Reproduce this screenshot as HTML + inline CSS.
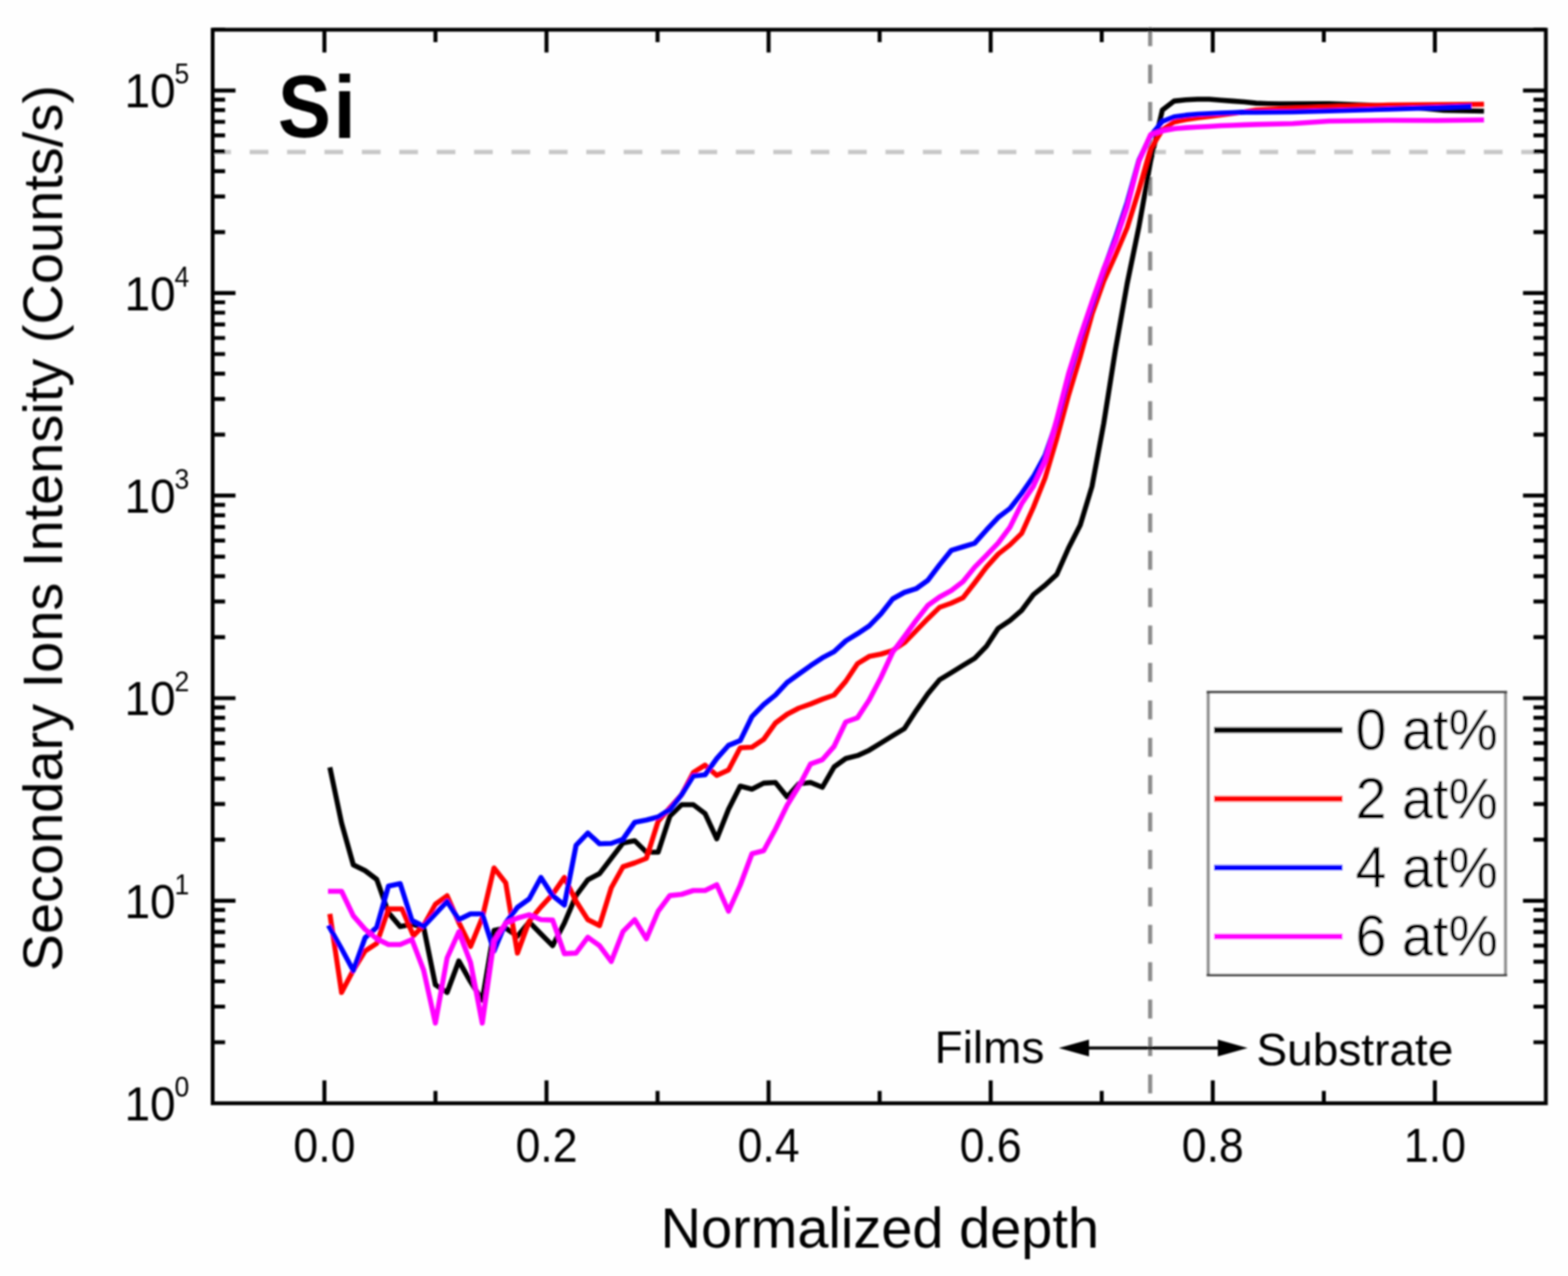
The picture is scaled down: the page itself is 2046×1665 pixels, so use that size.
<!DOCTYPE html>
<html lang="en"><head><meta charset="utf-8"><title>Si SIMS depth profile</title>
<style>html,body{margin:0;padding:0;background:#fefefe;}body{width:2046px;height:1665px;overflow:hidden;}svg{display:block;}text{font-family:'Liberation Sans', Arial, Helvetica, sans-serif;fill:#000;}</style>
</head><body>
<svg xmlns="http://www.w3.org/2000/svg" width="2046" height="1665" viewBox="0 0 2046 1665">
<defs><filter id="soft" x="-2%" y="-2%" width="104%" height="104%"><feGaussianBlur stdDeviation="1"/></filter></defs>
<rect x="0" y="0" width="2046" height="1665" fill="#fefefe"/>
<g filter="url(#soft)">
<line x1="277" y1="198.3" x2="2017" y2="198.3" stroke="#c8c8c8" stroke-width="5.8" stroke-dasharray="24.4 24.4"/>
<line x1="1500.8" y1="35.5" x2="1500.8" y2="1440" stroke="#8c8c8c" stroke-width="5.4" stroke-dasharray="24.8 24"/>
<path d="M430.4 1001.3 L445.7 1074.0 L461.0 1128.5 L476.3 1136.0 L491.6 1147.5 L506.9 1191.0 L522.2 1209.0 L537.5 1206.0 L552.8 1210.0 L568.1 1285.0 L583.4 1295.0 L598.7 1254.0 L614.0 1281.0 L629.3 1305.0 L644.6 1214.0 L659.9 1211.0 L675.2 1221.7 L690.5 1203.0 L705.8 1218.6 L721.1 1234.0 L736.4 1204.5 L751.7 1168.6 L767.0 1148.0 L782.3 1140.0 L797.6 1120.0 L812.9 1100.0 L828.2 1097.0 L843.5 1112.0 L858.8 1112.0 L874.1 1065.0 L889.4 1050.0 L904.7 1050.0 L920.0 1061.7 L935.3 1094.6 L950.6 1056.0 L965.9 1025.8 L981.2 1029.7 L996.5 1021.9 L1011.8 1021.0 L1027.1 1039.9 L1042.4 1022.7 L1057.7 1021.0 L1073.0 1027.3 L1088.3 1000.8 L1103.6 989.8 L1118.9 985.9 L1134.2 978.9 L1149.5 969.5 L1164.8 960.0 L1180.1 950.7 L1195.4 927.3 L1210.7 905.4 L1226.0 887.0 L1241.3 877.7 L1256.6 868.3 L1271.9 859.0 L1287.2 843.3 L1302.5 819.9 L1317.8 809.7 L1333.1 796.4 L1348.4 776.0 L1363.7 763.6 L1379.0 749.5 L1394.3 715.0 L1409.6 685.0 L1424.9 634.6 L1440.2 552.5 L1455.5 456.3 L1470.8 370.0 L1486.1 296.0 L1501.4 210.0 L1516.7 143.6 L1532.0 131.9 L1547.3 130.3 L1562.6 129.5 L1577.9 129.5 L1593.2 130.8 L1608.5 131.9 L1623.8 133.0 L1639.1 134.6 L1654.4 135.2 L1669.7 135.5 L1734.0 135.4 L1807.0 138.0 L1853.0 141.0 L1884.0 144.0 L1936.4 145.0" fill="none" stroke="#000000" stroke-width="6.6" stroke-linejoin="round" stroke-linecap="butt"/>
<path d="M430.4 1192.5 L445.7 1295.0 L461.0 1266.0 L476.3 1241.0 L491.6 1231.0 L506.9 1186.0 L524.5 1186.0 L539.5 1221.0 L552.8 1207.5 L568.1 1180.0 L583.4 1168.8 L598.7 1203.8 L614.0 1235.0 L629.3 1197.5 L644.6 1132.5 L659.9 1152.0 L675.2 1243.6 L690.5 1202.0 L705.8 1183.5 L721.1 1167.0 L736.4 1145.0 L751.7 1176.0 L767.0 1200.0 L782.3 1207.7 L797.6 1158.5 L812.9 1131.0 L828.2 1126.0 L843.5 1120.0 L858.8 1071.6 L874.1 1054.0 L889.4 1037.0 L904.7 1008.0 L920.0 998.4 L935.3 1011.7 L950.6 1004.7 L965.9 975.7 L981.2 975.0 L996.5 964.8 L1011.8 943.5 L1027.1 932.0 L1042.4 924.0 L1057.7 918.6 L1073.0 912.4 L1088.3 907.0 L1103.6 889.0 L1118.9 866.0 L1134.2 856.6 L1149.5 853.5 L1164.8 848.8 L1180.1 838.6 L1195.4 823.0 L1210.7 807.3 L1226.0 792.5 L1241.3 787.0 L1256.6 780.0 L1271.9 760.4 L1287.2 740.0 L1302.5 723.0 L1317.8 711.0 L1333.1 696.0 L1348.4 662.0 L1363.7 623.6 L1379.0 572.0 L1394.3 515.7 L1409.6 465.0 L1424.9 410.0 L1440.2 367.0 L1455.5 333.0 L1470.8 297.0 L1486.1 248.0 L1501.4 194.0 L1516.7 169.4 L1532.0 159.3 L1547.3 156.0 L1562.6 153.8 L1577.9 152.0 L1593.2 150.0 L1608.5 148.0 L1623.8 146.0 L1639.1 143.5 L1687.0 141.5 L1734.0 139.7 L1812.0 137.0 L1875.0 136.6 L1936.4 136.0" fill="none" stroke="#ff0000" stroke-width="6.6" stroke-linejoin="round" stroke-linecap="butt"/>
<path d="M428.5 1207.5 L445.7 1238.0 L461.0 1266.5 L476.3 1223.8 L491.6 1210.0 L506.9 1156.2 L522.2 1153.0 L537.5 1201.0 L552.8 1208.8 L568.1 1192.5 L583.4 1176.2 L598.7 1200.0 L614.0 1192.5 L629.3 1192.5 L644.6 1241.0 L659.9 1204.0 L675.2 1184.0 L690.5 1173.0 L705.8 1145.0 L721.1 1168.6 L736.4 1181.0 L751.7 1103.0 L767.0 1087.0 L782.3 1101.0 L797.6 1100.5 L812.9 1095.0 L828.2 1073.0 L843.5 1070.0 L858.8 1066.0 L874.1 1056.0 L889.4 1037.0 L904.7 1012.5 L920.0 1011.0 L935.3 989.8 L950.6 972.6 L965.9 966.4 L981.2 935.0 L996.5 919.4 L1011.8 907.0 L1027.1 890.5 L1042.4 879.5 L1057.7 868.6 L1073.0 858.4 L1088.3 850.4 L1103.6 836.3 L1118.9 826.9 L1134.2 816.7 L1149.5 801.0 L1164.8 781.5 L1180.1 773.0 L1195.4 768.2 L1210.7 757.3 L1226.0 737.0 L1241.3 718.2 L1256.6 713.5 L1271.9 708.8 L1287.2 691.6 L1302.5 675.2 L1317.8 663.5 L1333.1 644.0 L1348.4 622.0 L1363.7 594.0 L1379.0 550.0 L1394.3 492.0 L1409.6 442.0 L1424.9 398.0 L1440.2 352.0 L1455.5 310.0 L1470.8 264.0 L1486.1 209.0 L1501.4 177.0 L1516.7 158.5 L1532.0 152.5 L1547.3 150.4 L1562.6 149.0 L1577.9 148.3 L1593.2 147.5 L1608.5 147.0 L1623.8 146.4 L1639.1 146.5 L1687.0 146.0 L1734.0 144.7 L1812.0 142.4 L1875.0 140.4 L1920.0 138.5" fill="none" stroke="#0000ff" stroke-width="6.6" stroke-linejoin="round" stroke-linecap="butt"/>
<path d="M428.0 1163.0 L445.7 1163.0 L461.0 1195.0 L476.3 1212.5 L491.6 1225.0 L506.9 1232.5 L522.2 1232.5 L537.5 1226.0 L552.8 1266.0 L568.1 1335.0 L583.4 1250.0 L598.7 1216.0 L614.0 1256.0 L629.3 1335.0 L644.6 1227.5 L659.9 1204.5 L675.2 1198.0 L690.5 1193.6 L705.8 1200.0 L721.1 1200.6 L736.4 1244.4 L751.7 1243.6 L767.0 1223.0 L782.3 1234.0 L797.6 1254.6 L812.9 1215.5 L828.2 1200.0 L843.5 1225.0 L858.8 1189.0 L874.1 1168.6 L889.4 1167.0 L904.7 1162.0 L920.0 1162.0 L935.3 1154.5 L950.6 1189.0 L965.9 1155.0 L981.2 1114.0 L996.5 1110.0 L1011.8 1082.0 L1027.1 1050.8 L1042.4 1026.0 L1057.7 996.8 L1073.0 991.4 L1088.3 974.0 L1103.6 942.0 L1118.9 936.6 L1134.2 913.2 L1149.5 884.0 L1164.8 851.0 L1180.1 830.5 L1195.4 809.5 L1210.7 790.0 L1226.0 779.0 L1241.3 770.6 L1256.6 758.9 L1271.9 740.0 L1287.2 724.5 L1302.5 708.5 L1317.8 688.0 L1333.1 657.2 L1348.4 634.6 L1363.7 601.7 L1379.0 547.0 L1394.3 487.6 L1409.6 439.0 L1424.9 394.0 L1440.2 350.8 L1455.5 315.0 L1470.8 270.0 L1486.1 210.5 L1501.4 175.7 L1516.7 170.7 L1532.0 167.9 L1547.3 166.6 L1562.6 165.7 L1577.9 165.0 L1593.2 164.0 L1608.5 163.5 L1623.8 162.9 L1639.1 162.4 L1687.0 161.2 L1734.0 158.0 L1812.0 157.0 L1875.0 157.3 L1936.4 156.5" fill="none" stroke="#ff00ff" stroke-width="6.6" stroke-linejoin="round" stroke-linecap="butt"/>
<path d="M423.3 1439.6 V1409.8 M423.3 38.8 V68.6 M713.1 1439.6 V1409.8 M713.1 38.8 V68.6 M1002.9 1439.6 V1409.8 M1002.9 38.8 V68.6 M1292.7 1439.6 V1409.8 M1292.7 38.8 V68.6 M1582.5 1439.6 V1409.8 M1582.5 38.8 V68.6 M1872.3 1439.6 V1409.8 M1872.3 38.8 V68.6 M568.2 1439.6 V1423.4 M568.2 38.8 V55.0 M858.0 1439.6 V1423.4 M858.0 38.8 V55.0 M1147.8 1439.6 V1423.4 M1147.8 38.8 V55.0 M1437.6 1439.6 V1423.4 M1437.6 38.8 V55.0 M1727.4 1439.6 V1423.4 M1727.4 38.8 V55.0 M277.5 1360.0 H293.7 M2017.1 1360.0 H2000.9 M277.5 1313.5 H293.7 M2017.1 1313.5 H2000.9 M277.5 1280.5 H293.7 M2017.1 1280.5 H2000.9 M277.5 1254.9 H293.7 M2017.1 1254.9 H2000.9 M277.5 1233.9 H293.7 M2017.1 1233.9 H2000.9 M277.5 1216.2 H293.7 M2017.1 1216.2 H2000.9 M277.5 1200.9 H293.7 M2017.1 1200.9 H2000.9 M277.5 1187.4 H293.7 M2017.1 1187.4 H2000.9 M277.5 1175.3 H307.3 M2017.1 1175.3 H1987.3 M277.5 1095.7 H293.7 M2017.1 1095.7 H2000.9 M277.5 1049.2 H293.7 M2017.1 1049.2 H2000.9 M277.5 1016.2 H293.7 M2017.1 1016.2 H2000.9 M277.5 990.6 H293.7 M2017.1 990.6 H2000.9 M277.5 969.6 H293.7 M2017.1 969.6 H2000.9 M277.5 951.9 H293.7 M2017.1 951.9 H2000.9 M277.5 936.6 H293.7 M2017.1 936.6 H2000.9 M277.5 923.1 H293.7 M2017.1 923.1 H2000.9 M277.5 911.0 H307.3 M2017.1 911.0 H1987.3 M277.5 831.4 H293.7 M2017.1 831.4 H2000.9 M277.5 784.9 H293.7 M2017.1 784.9 H2000.9 M277.5 751.9 H293.7 M2017.1 751.9 H2000.9 M277.5 726.3 H293.7 M2017.1 726.3 H2000.9 M277.5 705.3 H293.7 M2017.1 705.3 H2000.9 M277.5 687.6 H293.7 M2017.1 687.6 H2000.9 M277.5 672.3 H293.7 M2017.1 672.3 H2000.9 M277.5 658.8 H293.7 M2017.1 658.8 H2000.9 M277.5 646.7 H307.3 M2017.1 646.7 H1987.3 M277.5 567.1 H293.7 M2017.1 567.1 H2000.9 M277.5 520.6 H293.7 M2017.1 520.6 H2000.9 M277.5 487.6 H293.7 M2017.1 487.6 H2000.9 M277.5 462.0 H293.7 M2017.1 462.0 H2000.9 M277.5 441.0 H293.7 M2017.1 441.0 H2000.9 M277.5 423.3 H293.7 M2017.1 423.3 H2000.9 M277.5 408.0 H293.7 M2017.1 408.0 H2000.9 M277.5 394.5 H293.7 M2017.1 394.5 H2000.9 M277.5 382.4 H307.3 M2017.1 382.4 H1987.3 M277.5 302.8 H293.7 M2017.1 302.8 H2000.9 M277.5 256.3 H293.7 M2017.1 256.3 H2000.9 M277.5 223.3 H293.7 M2017.1 223.3 H2000.9 M277.5 197.7 H293.7 M2017.1 197.7 H2000.9 M277.5 176.7 H293.7 M2017.1 176.7 H2000.9 M277.5 159.0 H293.7 M2017.1 159.0 H2000.9 M277.5 143.7 H293.7 M2017.1 143.7 H2000.9 M277.5 130.2 H293.7 M2017.1 130.2 H2000.9 M277.5 118.1 H307.3 M2017.1 118.1 H1987.3 M277.5 38.5 H293.7 M2017.1 38.5 H2000.9" fill="none" stroke="#000" stroke-width="5.2"/>
<rect x="277.5" y="38.8" width="1739.6" height="1400.8" fill="none" stroke="#000" stroke-width="5.0"/>
<rect x="1576.6" y="903.2" width="387.8" height="369.2" fill="#fefefe"/>
<path d="M1576.6 901.7 V1273.9 M1964.4 901.7 V1273.9" fill="none" stroke="#8e8e8e" stroke-width="4"/>
<path d="M1574.6 903.2 H1966.4 M1574.6 1272.4 H1966.4" fill="none" stroke="#484848" stroke-width="3.4"/>
<line x1="1584" y1="952.6" x2="1752" y2="952.6" stroke="#000000" stroke-width="7.6"/>
<text transform="translate(1768.8 978.0) scale(0.995 1.040)" font-size="73">0 at%</text>
<line x1="1584" y1="1042.4" x2="1752" y2="1042.4" stroke="#ff0000" stroke-width="7.6"/>
<text transform="translate(1768.8 1067.8) scale(0.995 1.040)" font-size="73">2 at%</text>
<line x1="1584" y1="1132.2" x2="1752" y2="1132.2" stroke="#0000ff" stroke-width="7.6"/>
<text transform="translate(1768.8 1157.6) scale(0.995 1.040)" font-size="73">4 at%</text>
<line x1="1584" y1="1222.0" x2="1752" y2="1222.0" stroke="#ff00ff" stroke-width="7.6"/>
<text transform="translate(1768.8 1247.4) scale(0.995 1.040)" font-size="73">6 at%</text>
<line x1="1410" y1="1367.6" x2="1600" y2="1367.6" stroke="#000" stroke-width="4.0"/>
<polygon points="1381.5,1367.6 1421,1356.6 1421,1378.6" fill="#000"/>
<polygon points="1628,1367.6 1589,1356.6 1589,1378.6" fill="#000"/>
<text transform="translate(1219.5 1387.0) scale(1.000 1.000)" font-size="60">Films</text>
<text transform="translate(1639.5 1389.5) scale(1.000 1.000)" font-size="60">Substrate</text>
<text transform="translate(362.5 178.6) scale(0.930 1.030)" font-size="112" letter-spacing="3.5" font-weight="bold">Si</text>
<text transform="translate(423.3 1515.9) scale(0.970 1.050)" font-size="60" text-anchor="middle">0.0</text>
<text transform="translate(713.1 1515.9) scale(0.970 1.050)" font-size="60" text-anchor="middle">0.2</text>
<text transform="translate(1002.9 1515.9) scale(0.970 1.050)" font-size="60" text-anchor="middle">0.4</text>
<text transform="translate(1292.7 1515.9) scale(0.970 1.050)" font-size="60" text-anchor="middle">0.6</text>
<text transform="translate(1582.5 1515.9) scale(0.970 1.050)" font-size="60" text-anchor="middle">0.8</text>
<text transform="translate(1872.3 1515.9) scale(0.970 1.050)" font-size="60" text-anchor="middle">1.0</text>
<text transform="translate(162.5 1461.9) scale(1.000 1.050)" font-size="60">10<tspan font-size="34.5" dx="-1.4" dy="-29.6">0</tspan></text>
<text transform="translate(162.5 1197.6) scale(1.000 1.050)" font-size="60">10<tspan font-size="34.5" dx="-1.4" dy="-29.6">1</tspan></text>
<text transform="translate(162.5 933.3) scale(1.000 1.050)" font-size="60">10<tspan font-size="34.5" dx="-1.4" dy="-29.6">2</tspan></text>
<text transform="translate(162.5 669.0) scale(1.000 1.050)" font-size="60">10<tspan font-size="34.5" dx="-1.4" dy="-29.6">3</tspan></text>
<text transform="translate(162.5 404.7) scale(1.000 1.050)" font-size="60">10<tspan font-size="34.5" dx="-1.4" dy="-29.6">4</tspan></text>
<text transform="translate(162.5 140.4) scale(1.000 1.050)" font-size="60">10<tspan font-size="34.5" dx="-1.4" dy="-29.6">5</tspan></text>
<text transform="translate(1148.0 1627.8) scale(1.000 1.025)" font-size="73" text-anchor="middle">Normalized depth</text>
<text transform="translate(81.0 689.3) rotate(-90) scale(1.000 1.000)" font-size="73" text-anchor="middle">Secondary Ions Intensity (Counts/s)</text>
</g>
</svg>
</body></html>
